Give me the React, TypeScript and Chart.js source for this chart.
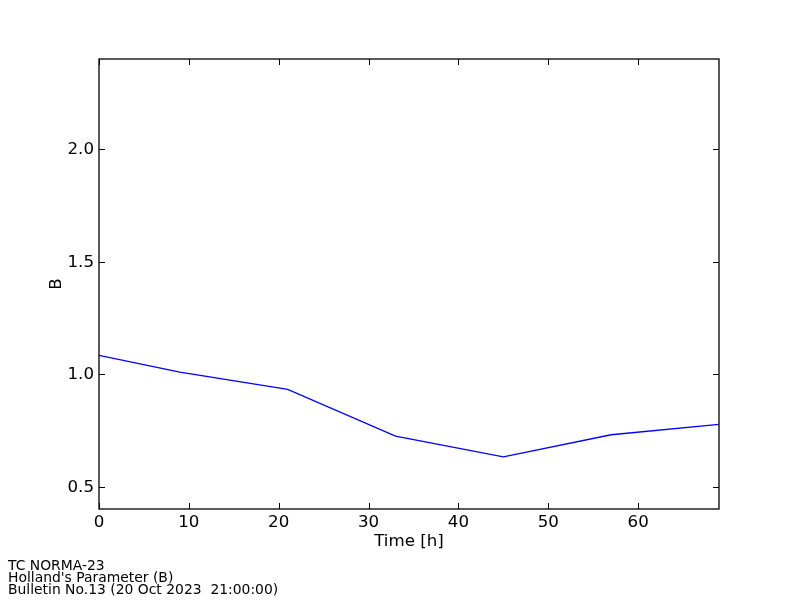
import React, { useEffect, useRef } from "react";
import { Chart, registerables } from "chart.js";

Chart.register(...registerables);

// ---- Data ----
const hours: number[] = [0, 9, 21, 33, 45, 57, 69];
const bValues: number[] = [1.083, 1.008, 0.932, 0.724, 0.632, 0.73, 0.776];
const xRange: number[] = [0, 69];
const yRange: number[] = [0.4, 2.4];
const xTickValues: number[] = [0, 10, 20, 30, 40, 50, 60];
const yTickValues: number[] = [0.5, 1.0, 1.5, 2.0];
const xTitle = "Time [h]";
const yTitle = "B";
const infoLines: string[] = [
  "TC NORMA-23",
  "Holland's Parameter (B)",
  "Bulletin No.13 (20 Oct 2023  21:00:00)",
];

const FONT = "'DejaVu Sans', 'Liberation Sans', sans-serif";

const framePlugin = {
  id: "mplFrame",
  afterDraw(chart: any) {
    const { ctx, chartArea: a, scales } = chart;
    ctx.save();
    ctx.strokeStyle = "#000";
    ctx.lineWidth = 1.3;
    ctx.strokeRect(a.left, a.top, a.right - a.left, a.bottom - a.top);
    ctx.lineWidth = 1;
    const len = 6;
    ctx.beginPath();
    for (const t of scales.x.ticks) {
      const px = Math.round(scales.x.getPixelForValue(t.value)) + 0.5;
      ctx.moveTo(px, a.bottom);
      ctx.lineTo(px, a.bottom - len);
      ctx.moveTo(px, a.top);
      ctx.lineTo(px, a.top + len);
    }
    for (const t of scales.y.ticks) {
      const py = Math.round(scales.y.getPixelForValue(t.value)) + 0.5;
      ctx.moveTo(a.left, py);
      ctx.lineTo(a.left + len, py);
      ctx.moveTo(a.right, py);
      ctx.lineTo(a.right - len, py);
    }
    ctx.stroke();
    ctx.restore();
  },
};

export default function App() {
  const canvasRef = useRef<HTMLCanvasElement | null>(null);

  useEffect(() => {
    const canvas = canvasRef.current;
    if (!canvas) return;
    Chart.defaults.font.family = FONT;
    Chart.defaults.color = "#000";
    const chart = new Chart(canvas, {
      type: "line",
      data: {
        datasets: [
          {
            data: hours.map((h, i) => ({ x: h, y: bValues[i] })),
            borderColor: "#0000ff",
            borderWidth: 1.3,
            pointRadius: 0,
            tension: 0,
            fill: false,
          },
        ],
      },
      options: {
        animation: false,
        responsive: false,
        maintainAspectRatio: false,
        events: [],
        layout: { padding: { left: 0, right: 81, top: 59, bottom: 0 } },
        plugins: { legend: { display: false }, tooltip: { enabled: false } },
        scales: {
          x: {
            type: "linear",
            min: xRange[0],
            max: xRange[1],
            grid: { display: false, drawTicks: false },
            border: { display: false },
            afterBuildTicks: (s: any) => {
              s.ticks = xTickValues.map((v) => ({ value: v }));
            },
            ticks: {
              padding: 4,
              maxRotation: 0,
              autoSkip: false,
              font: { size: 16.67, family: FONT },
              color: "#000",
              callback: (v: any) => String(Math.round(Number(v))),
            },
            title: {
              display: true,
              text: xTitle,
              font: { size: 16.67, family: FONT },
              color: "#000",
              padding: { top: 0, bottom: 48 },
            },
            afterFit: (s: any) => {
              s.height = 91;
            },
          },
          y: {
            type: "linear",
            min: yRange[0],
            max: yRange[1],
            grid: { display: false, drawTicks: false },
            border: { display: false },
            afterBuildTicks: (s: any) => {
              s.ticks = yTickValues.map((v) => ({ value: v }));
            },
            ticks: {
              padding: 5,
              labelOffset: 1,
              autoSkip: false,
              font: { size: 16.67, family: FONT },
              color: "#000",
              callback: (v: any) => Number(v).toFixed(1),
            },
            title: {
              display: true,
              text: yTitle,
              font: { size: 16.67, family: FONT },
              color: "#000",
              padding: { top: 47, bottom: 0 },
            },
            afterFit: (s: any) => {
              s.width = 99;
            },
          },
        },
      },
      plugins: [framePlugin],
    });
    return () => chart.destroy();
  }, []);

  return (
    <div style={{ position: "absolute", left: 0, top: 0, width: 800, height: 600, background: "#fff" }}>
      <canvas ref={canvasRef} width={800} height={600} style={{ display: "block", width: 800, height: 600 }} />
      <div
        style={{
          position: "absolute",
          left: 8,
          top: 559,
          fontFamily: FONT,
          fontSize: 13.9,
          lineHeight: "12px",
          whiteSpace: "pre",
          color: "#000",
        }}
      >
        {infoLines.map((l, i) => (
          <div key={i}>{l}</div>
        ))}
      </div>
    </div>
  );
}
